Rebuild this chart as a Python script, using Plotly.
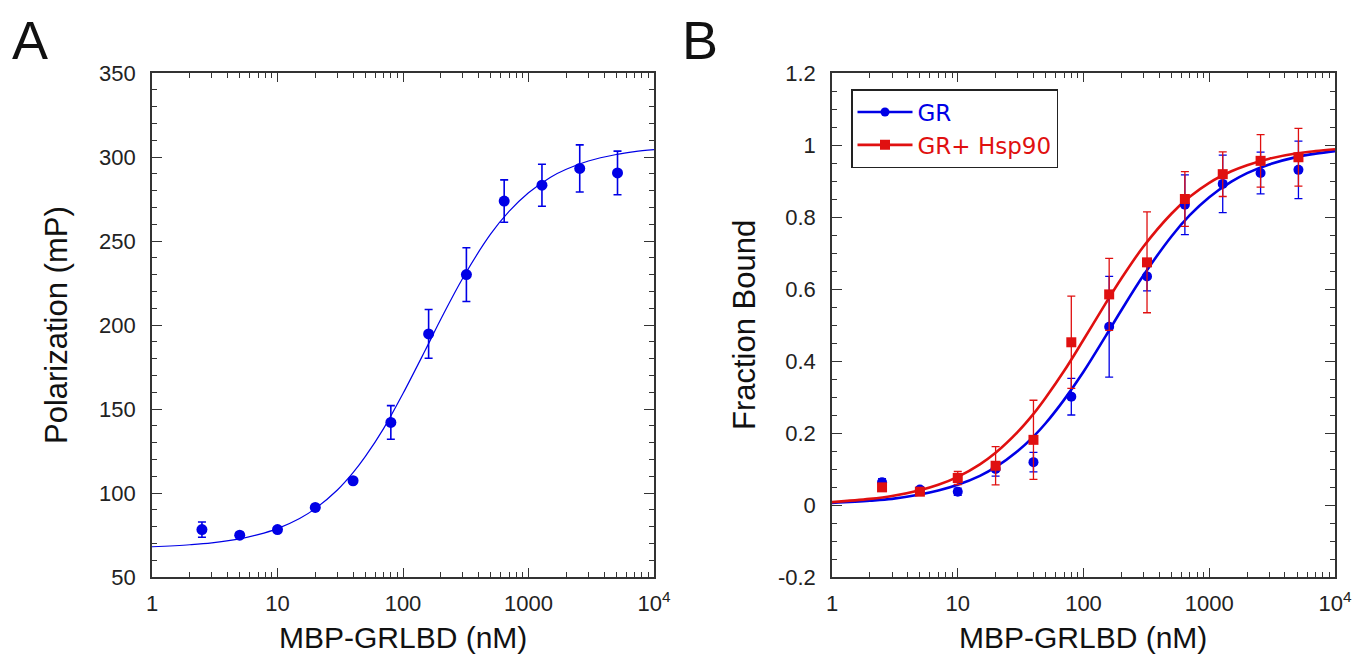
import plotly.graph_objects as go

# ---------------- data ----------------
conc = [2.5, 5, 10, 20, 40, 80, 160, 320, 640, 1280, 2560, 5120]

# Panel A : polarization (mP)
polA = [78.2, 74.9, 78.2, 91.4, 107.3, 142.0, 194.7, 230.0, 273.8, 283.2, 293.2, 290.5]
polA_err = [4.5, 1.5, 1.5, 1.5, 1.5, 10.0, 14.5, 16.0, 12.6, 12.5, 14.0, 13.0]

# fitted curves
fit_x = [1, 2, 3, 5, 7, 10, 15, 20, 30, 40, 50, 70, 100, 150, 200, 300, 500, 700,
         1000, 1500, 2000, 3000, 5000, 7000, 10000]
fitA_y = [68.0, 69.2, 70.3, 72.7, 75.2, 78.8, 84.8, 90.7, 101.8, 112.1, 121.6, 138.3, 159.2,
          184.8, 203.4, 228.0, 254.2, 267.6, 278.7, 288.0, 292.7, 297.6, 301.5, 303.2, 304.4]

# Panel B : fraction bound
grB = [0.063, 0.043, 0.037, 0.100, 0.119, 0.301, 0.495, 0.635, 0.834, 0.892, 0.922, 0.931]
grB_err = [0.01, 0.008, 0.01, 0.02, 0.027, 0.051, 0.14, 0.04, 0.083, 0.08, 0.058, 0.08]
hspB = [0.049, 0.037, 0.075, 0.109, 0.181, 0.452, 0.585, 0.674, 0.850, 0.919, 0.956, 0.966]
hspB_err = [0.008, 0.008, 0.018, 0.053, 0.11, 0.128, 0.10, 0.14, 0.076, 0.062, 0.073, 0.08]
fitGR_y = [0.006, 0.012, 0.017, 0.029, 0.040, 0.056, 0.081, 0.105, 0.150, 0.190, 0.227, 0.292,
           0.370, 0.469, 0.541, 0.638, 0.746, 0.805, 0.855, 0.898, 0.922, 0.946, 0.967, 0.976, 0.983]
fitHsp_y = [0.008, 0.017, 0.025, 0.041, 0.056, 0.078, 0.113, 0.145, 0.203, 0.253, 0.298, 0.372,
            0.459, 0.560, 0.629, 0.718, 0.809, 0.856, 0.895, 0.927, 0.944, 0.962, 0.977, 0.983, 0.988]

x_tickvals = [1, 10, 100, 1000, 10000]
x_ticktext = ["1", "10", "100", "1000", "10<sup>4</sup>"]
x_minor = [m * d for d in [1, 10, 100, 1000] for m in range(2, 10)]
yA_tickvals = [50, 100, 150, 200, 250, 300, 350]
yA_ticktext = ["50", "100", "150", "200", "250", "300", "350"]
yB_tickvals = [-0.2, 0, 0.2, 0.4, 0.6, 0.8, 1.0, 1.2]
yB_ticktext = ["-0.2", "0", "0.2", "0.4", "0.6", "0.8", "1", "1.2"]

BLUE = "#0000e6"
RED = "#e01010"
AXC = "#333333"
FONT = "Liberation Sans, Arial, Helvetica, sans-serif"
LFONT = "DejaVu Sans, Liberation Sans, sans-serif"

# page body adds an 8px offset; work in screen pixels and convert
OFF = 8
W, H = 1370 - 2 * OFF, 664 - 2 * OFF


def px(x):
    return (x - OFF) / W


def py(y):
    return 1 - (y - OFF) / H


fig = go.Figure()

# Panel A
fig.add_trace(go.Scatter(x=fit_x, y=fitA_y, mode="lines", line=dict(color=BLUE, width=1.2, shape="spline"),
                         xaxis="x", yaxis="y", showlegend=False, hoverinfo="skip"))
fig.add_trace(go.Scatter(x=conc, y=polA, mode="markers",
                         marker=dict(color=BLUE, size=11, symbol="circle"),
                         error_y=dict(type="data", array=polA_err, color=BLUE, thickness=1.6, width=4),
                         xaxis="x", yaxis="y", showlegend=False))

# Panel B
fig.add_trace(go.Scatter(x=fit_x, y=fitGR_y, mode="lines", line=dict(color=BLUE, width=2.6, shape="spline"),
                         xaxis="x2", yaxis="y2", showlegend=False, hoverinfo="skip"))
fig.add_trace(go.Scatter(x=fit_x, y=fitHsp_y, mode="lines", line=dict(color=RED, width=2.6, shape="spline"),
                         xaxis="x2", yaxis="y2", showlegend=False, hoverinfo="skip"))
fig.add_trace(go.Scatter(x=conc, y=grB, mode="markers",
                         marker=dict(color=BLUE, size=10, symbol="circle"),
                         error_y=dict(type="data", array=grB_err, color=BLUE, thickness=1.3, width=4),
                         xaxis="x2", yaxis="y2", showlegend=False))
fig.add_trace(go.Scatter(x=conc, y=hspB, mode="markers",
                         marker=dict(color=RED, size=10, symbol="square"),
                         error_y=dict(type="data", array=hspB_err, color=RED, thickness=1.3, width=4),
                         xaxis="x2", yaxis="y2", showlegend=False))

# legend-only entries
fig.add_trace(go.Scatter(x=[None], y=[None], mode="lines+markers", name="<span style='color:%s'>GR</span>" % BLUE,
                         line=dict(color=BLUE, width=2.6), marker=dict(color=BLUE, size=9, symbol="circle"),
                         xaxis="x2", yaxis="y2", showlegend=True))
fig.add_trace(go.Scatter(x=[None], y=[None], mode="lines+markers", name="<span style='color:%s'>GR+ Hsp90</span>" % RED,
                         line=dict(color=RED, width=2.6), marker=dict(color=RED, size=10, symbol="square"),
                         xaxis="x2", yaxis="y2", showlegend=True))


def xax(domain, anchor):
    return dict(domain=domain, anchor=anchor, type="log", range=[0, 4], automargin=False,
                tickmode="array", tickvals=x_tickvals, ticktext=x_ticktext,
                ticks="inside", ticklen=9, tickwidth=1.3, tickcolor=AXC, ticklabelstandoff=6,
                minor=dict(tickmode="array", tickvals=x_minor, ticks="inside", ticklen=5, tickwidth=1.2, tickcolor=AXC),
                showline=True, linecolor=AXC, linewidth=1.6, mirror="allticks",
                showgrid=False, zeroline=False,
                tickfont=dict(size=22, color="#222", family=FONT))


def yax(domain, anchor, rng, tv, tt, minor_dtick, tick0):
    return dict(domain=domain, anchor=anchor, range=rng, automargin=False,
                tickmode="array", tickvals=tv, ticktext=tt,
                ticks="inside", ticklen=10, tickwidth=1.3, tickcolor=AXC, ticklabelstandoff=10,
                minor=dict(dtick=minor_dtick, tick0=tick0, ticks="inside", ticklen=5, tickwidth=1.2, tickcolor=AXC),
                showline=True, linecolor=AXC, linewidth=1.6, mirror="allticks",
                showgrid=False, zeroline=False,
                tickfont=dict(size=22, color="#222", family=FONT))


ydom = [py(577), py(73)]
fig.update_layout(
    width=W, height=H, autosize=False,
    margin=dict(l=0, r=0, t=0, b=0, pad=0),
    paper_bgcolor="white", plot_bgcolor="white",
    font=dict(family=FONT, color="#222"),
    xaxis=xax([px(152), px(654)], "y"),
    yaxis=yax(ydom, "x", [50, 350], yA_tickvals, yA_ticktext, 10, 50),
    xaxis2=xax([px(832), px(1335)], "y2"),
    yaxis2=yax(ydom, "x2", [-0.2, 1.2], yB_tickvals, yB_ticktext, 0.05, -0.2),
    legend=dict(x=px(851), y=py(89), xanchor="left", yanchor="top",
                bordercolor="#222", borderwidth=1.5, bgcolor="white",
                font=dict(size=23, family=LFONT), tracegroupgap=0, itemwidth=55),
)

annots = [
    dict(text="A", x=px(10), y=1.0, xanchor="left", yanchor="top", font=dict(size=54)),
    dict(text="B", x=px(680), y=1.0, xanchor="left", yanchor="top", font=dict(size=54)),
    dict(text="Polarization (mP)", x=px(56), y=py(325), textangle=-90,
         xanchor="center", yanchor="middle", font=dict(size=31)),
    dict(text="Fraction Bound", x=px(744), y=py(325), textangle=-90,
         xanchor="center", yanchor="middle", font=dict(size=31)),
    dict(text="MBP-GRLBD (nM)", x=px(403), y=0.0, xanchor="center", yanchor="bottom",
         font=dict(size=30)),
    dict(text="MBP-GRLBD (nM)", x=px(1083), y=0.0, xanchor="center", yanchor="bottom",
         font=dict(size=30)),
]
for a in annots:
    a.update(xref="paper", yref="paper", showarrow=False)
    a["font"].update(family=FONT, color="#111")
fig.update_layout(annotations=annots)

fig.write_html("out.html")
